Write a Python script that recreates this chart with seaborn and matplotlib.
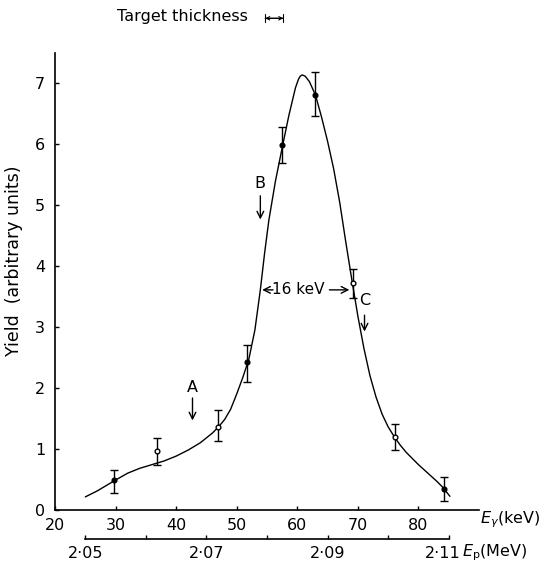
import matplotlib
matplotlib.use("Agg")
import matplotlib.pyplot as plt
import matplotlib.transforms as mtransforms
import seaborn as sns

# --- data ---
curve_e = [25.0, 27.0, 29.7, 32.0, 34.0, 36.0, 38.0, 40.0, 42.0, 44.0, 46.0,
           47.0, 48.0, 49.0, 50.0, 51.0, 52.0, 53.0, 53.9, 54.6, 55.3, 56.4,
           57.6, 58.6, 59.7, 60.2, 60.5, 60.8, 61.3, 62.0, 63.0, 64.0, 65.0,
           66.0, 67.0, 68.0, 69.0, 70.0, 71.0, 72.0, 73.0, 74.0, 75.0, 76.0,
           77.0, 78.0, 79.0, 80.0, 81.0, 82.0, 83.0, 84.0, 85.2]
curve_y = [0.21, 0.31, 0.47, 0.60, 0.68, 0.74, 0.80, 0.88, 0.98, 1.10, 1.26,
           1.36, 1.48, 1.65, 1.90, 2.17, 2.47, 2.95, 3.61, 4.21, 4.75, 5.40,
           5.99, 6.47, 6.93, 7.07, 7.12, 7.14, 7.12, 7.03, 6.81, 6.45, 6.05,
           5.60, 5.05, 4.40, 3.78, 3.18, 2.65, 2.20, 1.85, 1.57, 1.36, 1.20,
           1.06, 0.94, 0.84, 0.74, 0.65, 0.56, 0.47, 0.37, 0.22]

pt_e = [29.8, 36.9, 46.9, 51.7, 57.5, 63.0, 69.2, 76.2, 84.3]
pt_y = [0.49, 0.96, 1.36, 2.43, 5.99, 6.81, 3.72, 1.19, 0.34]
err_lo = [0.27, 0.73, 1.13, 2.10, 5.70, 6.46, 3.48, 0.98, 0.15]
err_hi = [0.65, 1.18, 1.63, 2.70, 6.28, 7.19, 3.95, 1.41, 0.53]
filled = [True, False, False, True, True, True, False, False, True]

x_ticks = [20, 30, 40, 50, 60, 70, 80]
y_ticks = [0, 1, 2, 3, 4, 5, 6, 7]
ep_ticks = [2.05, 2.06, 2.07, 2.08, 2.09, 2.10, 2.11]
ep_labels = ['2·05', '', '2·07', '', '2·09', '', '2·11']

sns.set_theme(style="ticks", rc={"text.color": "black", "axes.labelcolor": "black",
                                 "xtick.color": "black", "ytick.color": "black",
                                 "axes.edgecolor": "black"})
plt.rcParams['font.family'] = ['DejaVu Sans']
plt.rcParams['mathtext.fontset'] = 'dejavusans'

fig = plt.figure(figsize=(5.46, 5.65), dpi=100)
ax = fig.add_axes([55 / 546, 55.3 / 565, 424 / 546, 456.7 / 565])

sns.lineplot(x=curve_e, y=curve_y, sort=False, ax=ax, color='black', lw=1.0)

for e, y, lo, hi, f in zip(pt_e, pt_y, err_lo, err_hi, filled):
    ax.errorbar(e, y, yerr=[[y - lo], [hi - y]], fmt='o', ms=3.4,
                mfc='black' if f else 'white', mec='black', mew=1.0,
                ecolor='black', elinewidth=1.0, capsize=2.6, capthick=1.0,
                zorder=3)

ax.set_xlim(20, 90)
ax.set_ylim(0, 7.5)
ax.set_xticks(x_ticks)
ax.set_xticklabels([str(t) for t in x_ticks])
ax.set_yticks(y_ticks)
ax.tick_params(direction='in', length=3, width=1, labelsize=11.5)
ax.tick_params(axis='x', pad=6)
ax.tick_params(axis='y', pad=7)
for s in ['top', 'right']:
    ax.spines[s].set_visible(False)
for s in ['left', 'bottom']:
    ax.spines[s].set_linewidth(1.2)

ax.set_ylabel('Yield  (arbitrary units)', fontsize=12.5)
ax.yaxis.set_label_coords(-0.075, 0.545)

# secondary proton energy axis
ax2 = ax.twiny()
ax2.set_xlim(2.045, 2.115)
ax2.xaxis.set_ticks_position('bottom')
ax2.spines['bottom'].set_position(('outward', 21))
ax2.spines['bottom'].set_bounds(2.05, 2.11)
ax2.spines['bottom'].set_linewidth(1.2)
for s in ['top', 'right', 'left']:
    ax2.spines[s].set_visible(False)
ax2.set_xticks(ep_ticks)
ax2.set_xticklabels(ep_labels)
ax2.tick_params(direction='in', length=3, width=1, labelsize=11.5, pad=5)
ax2.patch.set_visible(False)
# last label sits a little left of its tick, as in the original
last = ax2.get_xticklabels()[-1]
last.set_transform(last.get_transform() +
                   mtransforms.ScaledTranslation(-0.06, 0, fig.dpi_scale_trans))

# axis labels at line ends
fig.text(480 / 546, 1 - 520 / 565, r'$E_{\gamma}$(keV)', fontsize=11.5, va='center', ha='left')
fig.text(462 / 546, 1 - 553 / 565, r'$E_{\mathrm{p}}$(MeV)', fontsize=11.5, va='center', ha='left')

# annotations
ax.text(42.7, 2.01, 'A', fontsize=11.5, ha='center', va='center')
ax.annotate('', xy=(42.7, 1.42), xytext=(42.7, 1.88),
            arrowprops=dict(arrowstyle='->', lw=1.0, color='black'))
ax.text(53.9, 5.36, 'B', fontsize=11.5, ha='center', va='center')
ax.annotate('', xy=(53.9, 4.72), xytext=(53.9, 5.2),
            arrowprops=dict(arrowstyle='->', lw=1.0, color='black'))
ax.text(71.1, 3.44, 'C', fontsize=11.5, ha='center', va='center')
ax.annotate('', xy=(71.1, 2.88), xytext=(71.1, 3.24),
            arrowprops=dict(arrowstyle='->', lw=1.0, color='black'))

ax.text(60.1, 3.61, '16 keV', fontsize=11, ha='center', va='center')
ax.annotate('', xy=(54.2, 3.61), xytext=(56.0, 3.61),
            arrowprops=dict(arrowstyle='->', lw=1.0, color='black',
                            shrinkA=0, shrinkB=0))
ax.annotate('', xy=(68.6, 3.61), xytext=(65.3, 3.61),
            arrowprops=dict(arrowstyle='->', lw=1.0, color='black',
                            shrinkA=0, shrinkB=0))

# target thickness marker
fig.text(117 / 546, 1 - 16 / 565, 'Target thickness', fontsize=11.5, va='center', ha='left')
ax.annotate('', xy=(57.7, 8.07), xytext=(54.7, 8.07), annotation_clip=False,
            arrowprops=dict(arrowstyle='<->', lw=0.8, color='black',
                            shrinkA=0, shrinkB=0, mutation_scale=6))
ax.annotate('', xy=(57.7, 8.07), xytext=(54.7, 8.07), annotation_clip=False,
            arrowprops=dict(arrowstyle='|-|, widthA=0.25, widthB=0.25', lw=0.8,
                            color='black', shrinkA=0, shrinkB=0))

fig.savefig('out.png', dpi=100, facecolor='white')
